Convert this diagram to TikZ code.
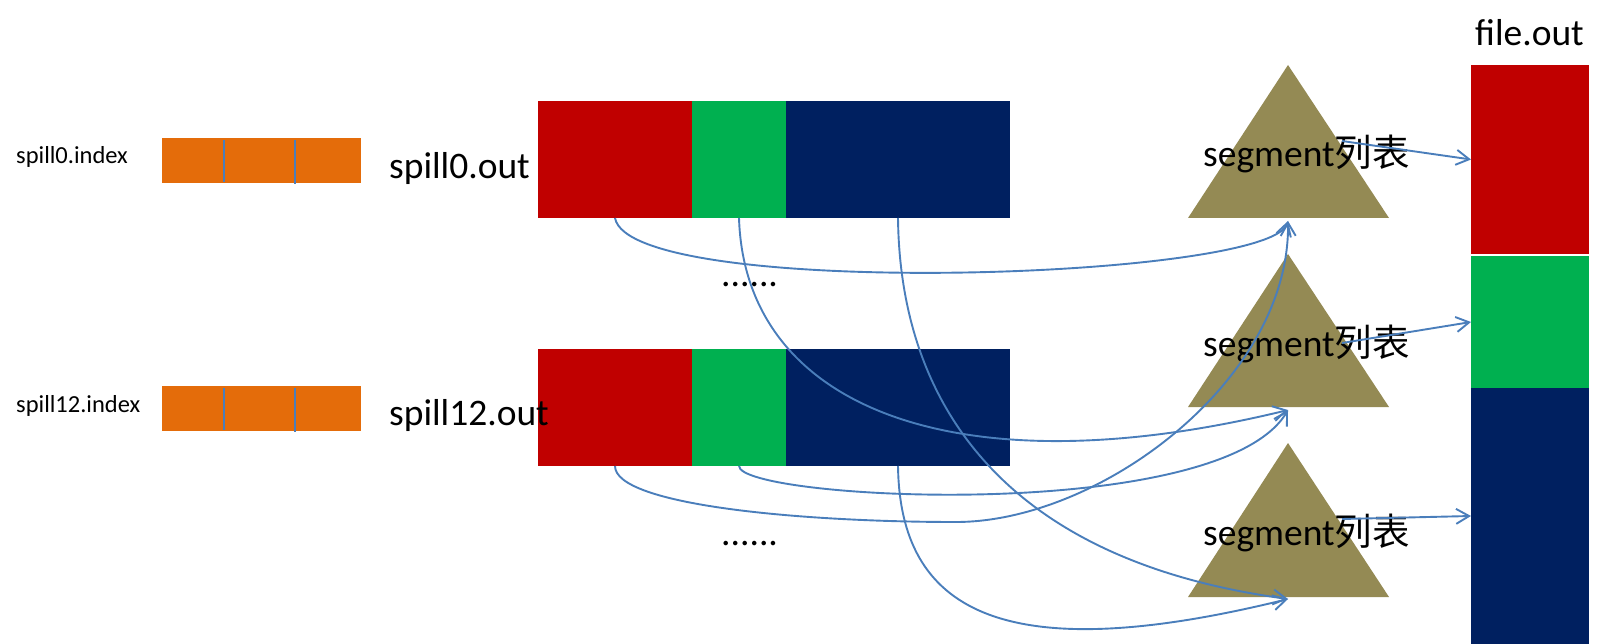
\documentclass[tikz,border=0pt]{standalone}
\usepackage{fontspec}
\setmainfont{Carlito}
\newfontfamily\cjk{Noto Sans CJK SC}
\usetikzlibrary{arrows.meta}
\definecolor{cred}{HTML}{C00000}
\definecolor{cgreen}{HTML}{00B050}
\definecolor{cnavy}{HTML}{002060}
\definecolor{corange}{HTML}{E46C0A}
\definecolor{colive}{HTML}{948A54}
\definecolor{cline}{HTML}{4A7EBB}
\begin{document}
\begin{tikzpicture}[x=1pt,y=-1pt,
  blk/.style={draw=none, inner sep=0pt, outer sep=0pt, anchor=north west},
  conn/.style={draw=cline, line width=1.9pt, -{Straight Barb[length=13pt,width=15pt]}},
  divider/.style={draw=cline, line width=1.8pt},
  big/.style={font=\fontsize{37.5}{44}\selectfont, inner sep=0pt, anchor=base west},
  small/.style={font=\fontsize{24.5}{29}\selectfont, inner sep=0pt, anchor=base west},
  tri/.style={fill=colive}
]
\useasboundingbox (0,0) rectangle (1613,644);

% index bars
\node[blk, fill=corange, minimum width=199pt, minimum height=45pt] (x0) at (162,138) {};
\node[blk, fill=corange, minimum width=199pt, minimum height=45pt] (x12) at (162,386) {};
\draw[divider] (224,140) -- (224,182);
\draw[divider] (295,140) -- (295,184);
\draw[divider] (224,388) -- (224,430);
\draw[divider] (295,388) -- (295,432);

% spill0.out bar
\node[blk, fill=cred,   minimum width=154pt, minimum height=117pt] (r0) at (538,101) {};
\node[blk, fill=cgreen, minimum width=94pt,  minimum height=117pt] (g0) at (692,101) {};
\node[blk, fill=cnavy,  minimum width=224pt, minimum height=117pt] (b0) at (786,101) {};
% spill12.out bar
\node[blk, fill=cred,   minimum width=154pt, minimum height=117pt] (r12) at (538,349) {};
\node[blk, fill=cgreen, minimum width=94pt,  minimum height=117pt] (g12) at (692,349) {};
\node[blk, fill=cnavy,  minimum width=224pt, minimum height=117pt] (b12) at (786,349) {};

% file.out column
\node[blk, fill=cred,   minimum width=118pt, minimum height=189pt] (f1) at (1471,65) {};
\node[blk, fill=cgreen, minimum width=118pt, minimum height=132pt] (f2) at (1471,256) {};
\node[blk, fill=cnavy,  minimum width=118pt, minimum height=256pt] (f3) at (1471,388) {};

% triangles
\fill[tri] (1188,218) -- (1288,65) -- (1389,218) -- cycle;
\fill[tri] (1188,407) -- (1288,254) -- (1389,407) -- cycle;
\fill[tri] (1188,597) -- (1288,443) -- (1389,597) -- cycle;
\coordinate (tp1) at (1288,221);
\coordinate (tp2) at (1288,410);
\coordinate (tp3) at (1288,599);

% texts
\node[small] (i0) at (16,164) {spill0.index};
\node[small] (i12) at (16,412) {spill12.index};
\node[big] (o0) at (389,179) {spill0.out};
\node[big] (o12) at (389,425) {spill12.out};
\node[big] (d0) at (721,286) {......};
\node[big] (d1) at (721,545) {......};
\node[big] (sg1) at (1203,167) {segment{\cjk 列表}};
\node[big] (sg2) at (1203,356) {segment{\cjk 列表}};
\node[big] (sg3) at (1203,545) {segment{\cjk 列表}};
\node[big] (fo) at (1475,46) {file.out};

% curved connectors
\coordinate (m1) at (956,522);
\draw[conn] (r0.south) .. controls (630,300) and (1270,280) .. (tp1);
\draw[conn] (g0.south) .. controls (745,410) and (960,490) .. (tp2);
\draw[conn] (b0.south) .. controls (900,400) and (1000,560) .. (tp3);
\draw[conn] (r12.south) .. controls (615,505) and (800,522) .. (m1) .. controls (1100,522) and (1290,380) .. (tp1);
\draw[conn] (g12.south) .. controls (740,500) and (1220,525) .. (tp2);
\draw[conn] (b12.south) .. controls (900,610) and (1000,670) .. (tp3);

% segment -> file.out
\coordinate (s1) at (1342,141);
\coordinate (s2) at (1342,343);
\coordinate (s3) at (1342,519);
\draw[conn] (s1) -- (f1.west);
\draw[conn] (s2) -- (f2.west);
\draw[conn] (s3) -- (f3.west);
\end{tikzpicture}
\end{document}
